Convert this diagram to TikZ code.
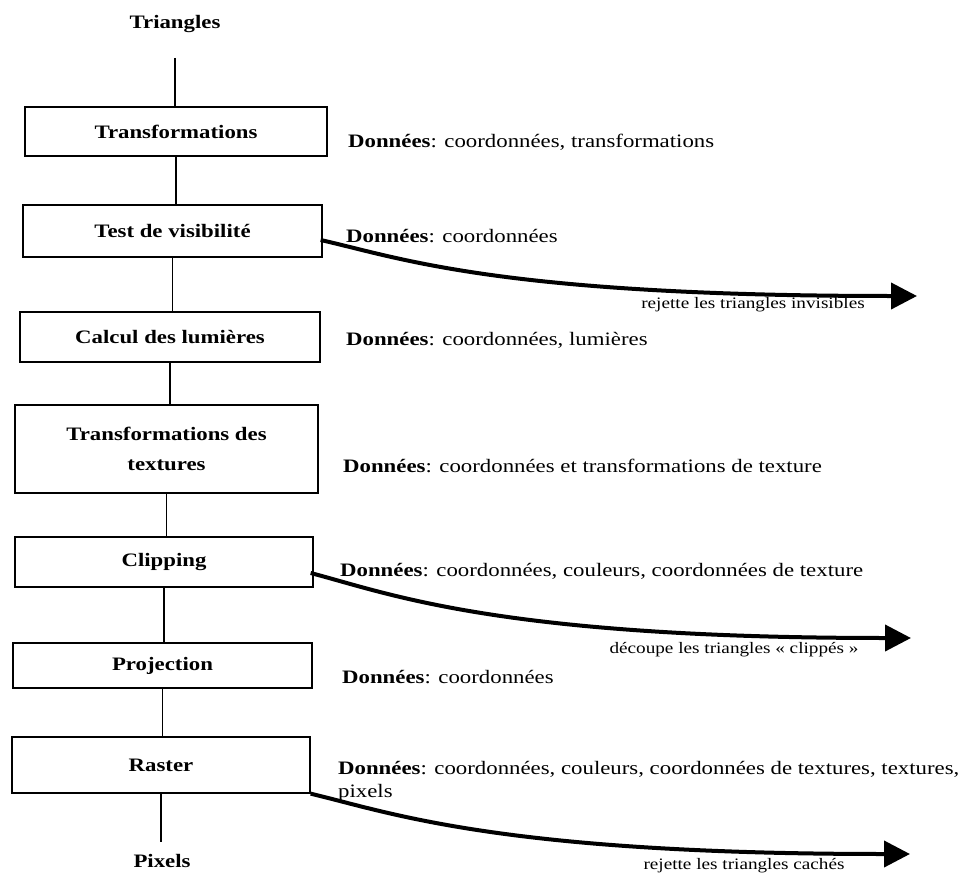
\documentclass[tikz,border=0pt]{standalone}
\usepackage{fontspec}
\setmainfont{Liberation Serif}[FakeStretch=1.2]
\usetikzlibrary{arrows.meta}
\begin{document}
\begin{tikzpicture}[x=1pt,y=-1pt,
  stage/.style={draw, line width=1.3pt, inner sep=0pt, align=center,
    font=\fontsize{19}{30}\selectfont\bfseries},
  endlabel/.style={inner sep=0pt, font=\fontsize{19}{23}\selectfont\bfseries},
  datalabel/.style={anchor=west, inner sep=0pt, align=left,
    font=\fontsize{19}{23}\selectfont},
  note/.style={inner sep=0pt, font=\fontsize{16}{18}\selectfont},
  link/.style={line width=1.3pt},
  reject/.style={line width=4pt, -{Triangle[length=26pt,width=26pt]}},
]
\useasboundingbox (0,0) rectangle (967,875);

% pipeline stages
\node[stage, minimum width=302pt, minimum height=49pt] (tr)   at (176,131.5) {Transformations};
\node[stage, minimum width=299pt, minimum height=52pt] (vis)  at (172.5,231) {Test de visibilité};
\node[stage, minimum width=300pt, minimum height=50pt] (lum)  at (170,337)   {Calcul des lumières};
\node[stage, minimum width=303pt, minimum height=88pt] (tex)  at (166.5,449) {Transformations des\\textures};
\node[stage, minimum width=298pt, minimum height=50pt] (clip) at (164,562)   {Clipping};
\node[stage, minimum width=299pt, minimum height=45pt] (proj) at (162.5,665.5) {Projection};
\node[stage, minimum width=298pt, minimum height=56pt] (ras)  at (161,765)   {Raster};

% input and output
\node[endlabel] (tri) at (175,24) {Triangles};
\coordinate (tri-end) at (175,58);
\node[endlabel] (pix) at (162,861) {Pixels};
\coordinate (pix-top) at (161,842);

% vertical flow
\draw[link] (tri-end) -- (tri-end |- tr.north);
\draw[link] (tr.south)   -- (tr.south |- vis.north);
\draw[link] (vis.south)  -- (vis.south |- lum.north);
\draw[link] (lum.south)  -- (lum.south |- tex.north);
\draw[link] (tex.south)  -- (tex.south |- clip.north);
\draw[link] (clip.south) -- (clip.south |- proj.north);
\draw[link] (proj.south) -- (proj.south |- ras.north);
\draw[link] (ras.south)  -- (ras.south |- pix-top);

% data handled at each stage
\node[datalabel] (dtr)   at (348,142)   {\textbf{Données}: coordonnées, transformations};
\node[datalabel] (dvis)  at (346,236)   {\textbf{Données}: coordonnées};
\node[datalabel] (dlum)  at (346,340)   {\textbf{Données}: coordonnées, lumières};
\node[datalabel] (dtex)  at (343,466)   {\textbf{Données}: coordonnées et transformations de texture};
\node[datalabel] (dclip) at (340,571)   {\textbf{Données}: coordonnées, couleurs, coordonnées de texture};
\node[datalabel] (dproj) at (342,677)   {\textbf{Données}: coordonnées};
\node[datalabel] (dras)  at (338,781.5) {\textbf{Données}: coordonnées, couleurs, coordonnées de textures, textures,\\pixels};

% rejected triangles
\coordinate (out1) at (917,296);
\coordinate (out2) at (911,638);
\coordinate (out3) at (910,854);
\draw[reject] ([xshift=-2pt,yshift=-9pt]vis.east) .. controls +(80,18) and +(-417,0) .. (out1);
\draw[reject] ([xshift=-3pt,yshift=-11pt]clip.east) .. controls +(80,21) and +(-411,0) .. (out2);
\draw[reject] (ras.south east) .. controls +(80,19) and +(-410,0) .. (out3);

\node[note] (n1) at (753,305) {rejette les triangles invisibles};
\node[note] (n2) at (734,650) {découpe les triangles «~clippés~»};
\node[note] (n3) at (744,866) {rejette les triangles cachés};
\end{tikzpicture}
\end{document}
